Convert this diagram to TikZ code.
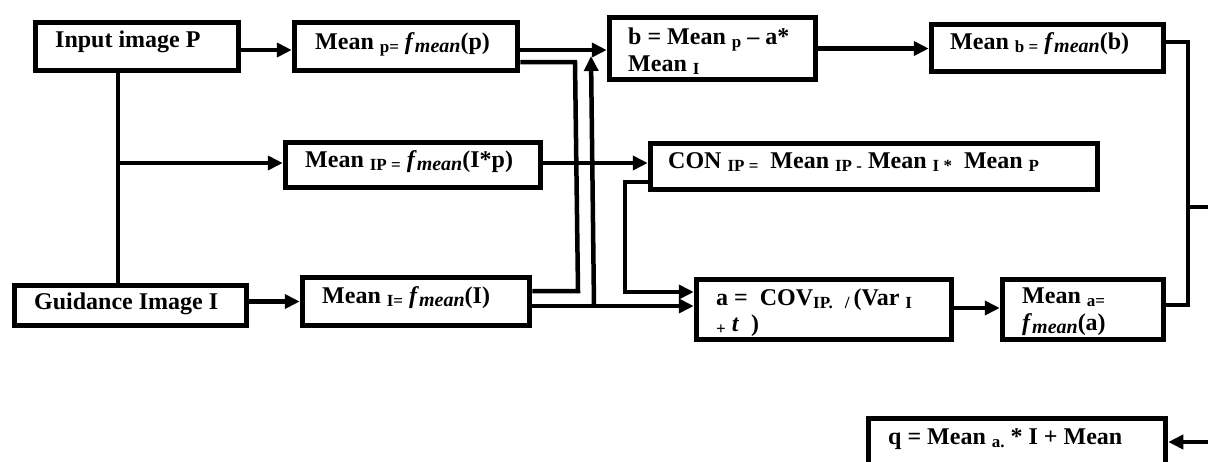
\documentclass[tikz,border=0pt]{standalone}
\usepackage{fontspec}
\setmainfont{Liberation Serif}
\usetikzlibrary{arrows.meta}
% small lowered index text and the f_mean operator
\newcommand\sbs[1]{\raisebox{-0.3ex}{\fontsize{17}{17}\selectfont #1}}
\newcommand\fmean{\textit{f}\raisebox{-0.3ex}{\fontsize{20}{20}\selectfont\textit{mean}}}

\begin{document}
\begin{tikzpicture}[x=1pt,y=-1pt,
  box/.style={draw, line width=5.5pt, inner sep=0pt},
  lbl/.style={anchor=base west, inner sep=0pt, font=\fontsize{24}{27}\selectfont\bfseries},
  wire/.style={line width=4.5pt},
  flow/.style={wire, -{Triangle[length=15pt,width=14pt]}},
]
\useasboundingbox (0,0) rectangle (1208,461);
\clip (0,0) rectangle (1208,461);

% boxes
\node[box, minimum width=203pt, minimum height=48pt] (inP)    at (137,46.5)   {};
\node[box, minimum width=223pt, minimum height=48pt] (meanP)  at (406,46.5)   {};
\node[box, minimum width=206pt, minimum height=62pt] (b)      at (712.5,48.5) {};
\node[box, minimum width=232pt, minimum height=47pt] (meanB)  at (1047.5,48)  {};
\node[box, minimum width=255pt, minimum height=45pt] (meanIP) at (413,165)    {};
\node[box, minimum width=447pt, minimum height=46pt] (CON)    at (874,166.5)  {};
\node[box, minimum width=232pt, minimum height=40pt] (guide)  at (130.5,305.5){};
\node[box, minimum width=227pt, minimum height=48pt] (meanI)  at (416,301.5)  {};
\node[box, minimum width=255pt, minimum height=60pt] (a)      at (824,309.5)  {};
\node[box, minimum width=161pt, minimum height=60pt] (meanA)  at (1083,309.5) {};
\node[box, minimum width=297pt, minimum height=63pt] (q)      at (1017,450)   {};

% labels
\node[lbl] (inP-t)    at (55,47)   {Input image P};
\node[lbl] (meanP-t)  at (315,49)  {Mean \sbs{p=} \fmean(p)};
\node[lbl] (b-t1)     at (628,44)  {b = Mean \sbs{p} -- a*};
\node[lbl] (b-t2)     at (628,71)  {Mean \sbs{I}};
\node[lbl] (meanB-t)  at (950,49)  {Mean \sbs{b =} \fmean(b)};
\node[lbl] (meanIP-t) at (305,167) {Mean \sbs{IP =} \fmean(I*p)};
\node[lbl] (CON-t)    at (668,168) {CON \sbs{IP =}\ \ Mean \sbs{IP -} Mean \sbs{I *}\ \ Mean \sbs{P}};
\node[lbl] (guide-t)  at (34,309)  {Guidance Image I};
\node[lbl] (meanI-t)  at (322,303) {Mean \sbs{I=} \fmean(I)};
\node[lbl] (a-t1)     at (716,305) {a = \ COV\sbs{IP.}\ \ \sbs{/}\,(Var\ \sbs{I}};
\node[lbl] (a-t2)     at (716,331) {\sbs{+} \textit{t}\ \ )};
\node[lbl] (meanA-t1) at (1022,303){Mean \sbs{a=}};
\node[lbl] (meanA-t2) at (1022,330){\fmean(a)};
\node[lbl] (q-t)      at (888,444) {q = Mean \sbs{a.} * I + Mean};

% bend points
\coordinate (trunk) at (118,163);
\coordinate (pA) at (575,62);
\coordinate (pB) at (578,291);
\coordinate (iA) at (594,306);
\coordinate (iB) at (591,56);
\coordinate (cA) at (625,182);
\coordinate (cB) at (625,292);
\coordinate (rA) at (1188,42);
\coordinate (rB) at (1188,305);
\coordinate (rC) at (1188,207);
\coordinate (rOut) at (1208,207);
\coordinate (qIn) at (1208,442);

% connectors
\draw[flow] (inP.east |- 0,50) -- (meanP.west |- 0,50);
\draw[wire] (inP.south -| trunk) -- (guide.north -| trunk);
\draw[flow] (trunk) -- (meanIP.west |- trunk);
\draw[flow] (meanI.west -| guide.east) -- (meanI.west);
\draw[flow] (meanP.east |- 0,50) -- (b.west |- 0,50);
\draw[wire] (meanP.east |- pA) -- (pA) -- (pB) -- (meanI.east |- pB);
\draw[flow] (meanI.east |- iA) -- (a.west |- iA);
\draw[flow] (iA) -- (iB);
\draw[flow] (meanIP.east |- 0,163) -- (CON.west |- 0,163);
\draw[flow] (CON.west |- cA) -- (cA) -- (cB) -- (a.west |- cB);
\draw[flow] (b.east) -- (meanB.west |- b.east);
\draw[flow] (a.east |- 0,308) -- (meanA.west |- 0,308);
\draw[wire] (meanB.east |- rA) -- (rA) -- (rB) -- (meanA.east |- rB);
\draw[wire] (rC) -- (rOut);
\draw[flow] (qIn) -- (q.east |- qIn);
\end{tikzpicture}
\end{document}
